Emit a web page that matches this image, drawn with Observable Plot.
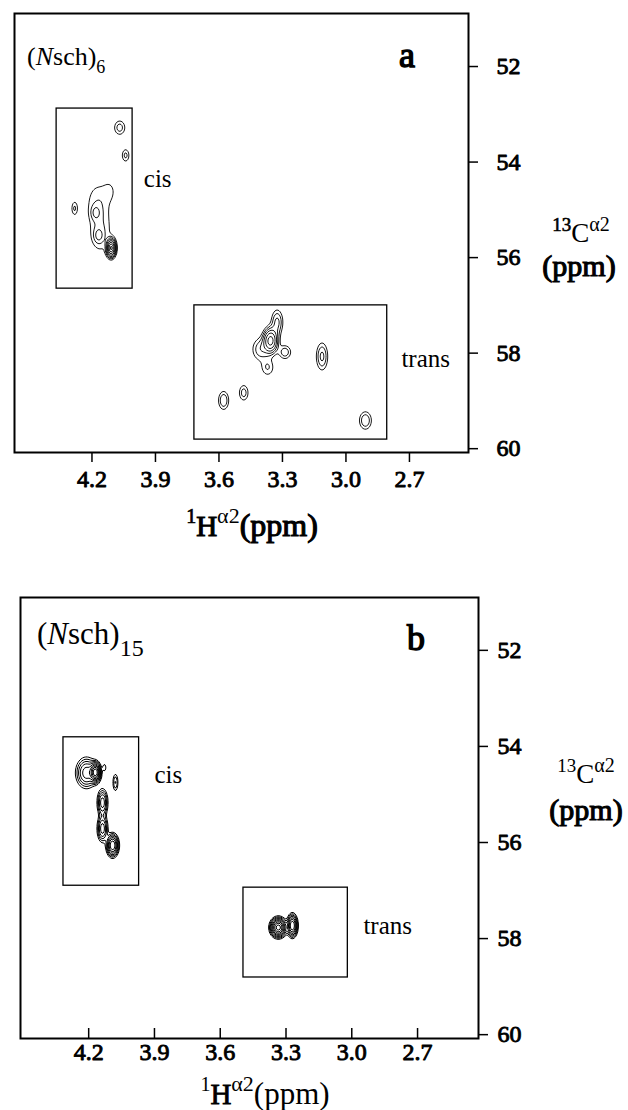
<!DOCTYPE html>
<html><head><meta charset="utf-8">
<script src="https://cdn.jsdelivr.net/npm/d3@7"></script>
<script src="https://cdn.jsdelivr.net/npm/@observablehq/plot@0.6"></script>
<style>
body{margin:0;background:#fff;}
svg{display:block;}
</style>
</head><body>
<div id="a"></div><div id="b"></div>
<script>
// ---- tick values ----
const hTicks = [4.2, 3.9, 3.6, 3.3, 3.0, 2.7];
const cTicks = [52, 54, 56, 58, 60];

// ---- panel a: (Nsch)6 peaks (1H ppm, 13C ppm, widths, amplitude) ----
const aPeakH  = [4.069, 4.041, 4.282, 4.170, 4.160, 4.115, 4.183, 4.169, 4.109, 3.356, 3.325, 3.405, 3.288, 3.370, 3.113, 3.578, 3.483, 2.908];
const aPeakC  = [53.28, 53.86, 54.97, 54.85, 55.50, 54.60, 55.06, 55.54, 55.80, 57.74, 57.35, 57.92, 57.98, 58.30, 58.07, 58.99, 58.83, 59.41];
const aWidthH = [0.019, 0.013, 0.011, 0.042, 0.037, 0.022, 0.015, 0.015, 0.012, 0.020, 0.018, 0.026, 0.020, 0.022, 0.018, 0.017, 0.016, 0.020];
const aWidthC = [0.110, 0.100, 0.110, 0.320, 0.300, 0.160, 0.100, 0.100, 0.105, 0.150, 0.170, 0.160, 0.100, 0.130, 0.190, 0.134, 0.120, 0.130];
const aAmp    = [0.33,  0.30,  0.28,  0.24,  0.25,  0.13,  0.25,  0.25,  2.40,  1.50,  0.45,  0.36,  0.36,  0.27,  0.45,  0.40,  0.33,  0.40];

// ---- panel b: (Nsch)15 peaks ----
const bPeakH  = [4.210, 4.169, 4.128, 4.078, 4.137, 4.137, 4.091, 3.335, 3.271];
const bPeakC  = [54.55, 54.54, 54.44, 54.75, 55.17, 55.71, 56.06, 57.77, 57.73];
const bWidthH = [0.026, 0.012, 0.006, 0.008, 0.013, 0.013, 0.014, 0.018, 0.012];
const bWidthC = [0.170, 0.100, 0.060, 0.120, 0.150, 0.150, 0.120, 0.100, 0.120];
const bAmp    = [1.00,  3.00,  0.25,  0.40,  1.00,  1.00,  2.00,  3.00,  2.00];

// ---- boxes (cis, trans) ----
const boxLabel = ["cis", "trans"];
const aBoxH1 = [4.367, 3.716], aBoxH2 = [4.008, 2.805];
const aBoxC1 = [52.88, 57.00], aBoxC2 = [56.65, 59.81];
const bBoxH1 = [4.315, 3.494], bBoxH2 = [3.970, 3.018];
const bBoxC1 = [53.81, 56.94], bBoxC2 = [56.90, 58.81];
// label anchors (ppm)
const aLabH = [3.955, 2.738], aLabC = [54.35, 58.12];
const bLabH = [3.900, 2.947], bLabC = [54.60, 57.73];

const levelsA = [0.15, 0.26, 0.4, 0.6, 0.9, 1.3, 1.8, 2.3];
const levelsB = [0.15, 0.25, 0.38, 0.55, 0.8, 1.1, 1.5, 2.0, 2.6];

const FONT = "Liberation Serif";

function density(H, C, WH, WC, A) {
  return (x, y) => {
    let s = 0;
    for (let i = 0; i < H.length; i++) {
      const dx = (x - H[i]) / WH[i], dy = (y - C[i]) / WC[i];
      s += A[i] * Math.exp(-0.5 * (dx * dx + dy * dy));
    }
    return s;
  };
}

function panel(cfg) {
  const boxes = boxLabel.map((l, i) => ({l, h1: cfg.bh1[i], h2: cfg.bh2[i], c1: cfg.bc1[i], c2: cfg.bc2[i], lh: cfg.lh[i], lc: cfg.lc[i]}));
  const frameH = cfg.height - cfg.mt - cfg.mb;
  const frameW = 628 - cfg.ml - cfg.mr;
  const tickFont = {fontSize: 24, fontFamily: FONT, fill: "black", stroke: "black", strokeWidth: 0.9};
  const xTickRule = cfg.inwardX
    ? Plot.ruleX(hTicks, {x: d => d, insetTop: frameH - 10, stroke: "black", strokeWidth: 1.5})
    : Plot.ruleX(hTicks, {x: d => d, insetTop: frameH, insetBottom: -10, stroke: "black", strokeWidth: 1.5});
  const svg = Plot.plot({
    width: 628, height: cfg.height,
    marginLeft: cfg.ml, marginRight: cfg.mr, marginTop: cfg.mt, marginBottom: cfg.mb,
    style: {fontFamily: FONT, background: "white", color: "black"},
    x: {domain: cfg.xd, axis: null},
    y: {domain: cfg.yd, axis: null},
    marks: [
      Plot.contour({value: density(cfg.H, cfg.C, cfg.WH, cfg.WC, cfg.A), thresholds: cfg.levels,
        x1: cfg.xd[0], x2: cfg.xd[1], y1: cfg.yd[0], y2: cfg.yd[1],
        stroke: "black", fill: "none", strokeWidth: cfg.sw, pixelSize: 1}),
      Plot.rect(boxes, {x1: "h1", x2: "h2", y1: "c1", y2: "c2", fill: "none", stroke: "black", strokeWidth: 1.3}),
      Plot.text(boxes, {x: "lh", y: "lc", text: "l", textAnchor: "start", fontSize: 25, fontFamily: FONT, fill: "black"}),
      Plot.frame({stroke: "black", strokeWidth: 2}),
      xTickRule,
      Plot.text(hTicks, {x: d => d, text: d => d.toFixed(1), frameAnchor: "bottom", lineAnchor: "top", dy: cfg.xDy, ...tickFont}),
      Plot.ruleY(cTicks, {y: d => d, insetLeft: frameW, insetRight: -10, stroke: "black", strokeWidth: 1.5}),
      Plot.text(cTicks, {y: d => d, text: d => String(d), frameAnchor: "right", textAnchor: "start", lineAnchor: "middle", dx: cfg.yDx, ...tickFont})
    ]
  });
  return d3.select(svg);
}

function rich(s, x, y, anchor, parts) {
  const t = s.append("text").attr("x", x).attr("y", y).attr("text-anchor", anchor)
    .attr("font-family", FONT).attr("fill", "black");
  let cur = 0;
  for (const p of parts) {
    const sp = t.append("tspan").text(p.t).attr("font-size", p.size);
    if (p.it) sp.attr("font-style", "italic");
    if (p.b) sp.attr("stroke", "black").attr("stroke-width", p.b);
    const sh = p.shift || 0;
    sp.attr("dy", sh - cur); cur = sh;
  }
  return t;
}

// ---- panel a ----
const sa = panel({height: 560, ml: 14, mr: 160, mt: 13, mb: 108,
  xd: [4.566, 2.421], yd: [60.08, 50.89],
  H: aPeakH, C: aPeakC, WH: aWidthH, WC: aWidthC, A: aAmp, levels: levelsA, sw: 0.9,
  bh1: aBoxH1, bh2: aBoxH2, bc1: aBoxC1, bc2: aBoxC2, lh: aLabH, lc: aLabC, yDx: 28, xDy: 17, inwardX: false});
rich(sa, 27, 65, "start", [{t: "(", size: 26}, {t: "N", size: 26, it: true}, {t: "sch)", size: 26}, {t: "6", size: 18, shift: 8}]);
rich(sa, 399, 67, "start", [{t: "a", size: 36, b: 1.4}]);
rich(sa, 252, 536, "middle", [{t: "1", size: 20, b: 0.7, shift: -13}, {t: "H", size: 29, b: 1.1}, {t: "α2", size: 22, shift: -13}, {t: "(ppm)", size: 32, b: 1.1}]);
rich(sa, 581, 242, "middle", [{t: "13", size: 19, b: 0.6, shift: -11}, {t: "C", size: 27}, {t: "α2", size: 20, shift: -11}]);
rich(sa, 579, 276, "middle", [{t: "(ppm)", size: 30, b: 1.1}]);
document.getElementById("a").appendChild(sa.node());

// ---- panel b ----
const sb = panel({height: 550, ml: 20, mr: 150, mt: 37, mb: 72,
  xd: [4.511, 2.422], yd: [60.08, 50.9],
  H: bPeakH, C: bPeakC, WH: bWidthH, WC: bWidthC, A: bAmp, levels: levelsB, sw: 1,
  bh1: bBoxH1, bh2: bBoxH2, bc1: bBoxC1, bc2: bBoxC2, lh: bLabH, lc: bLabC, yDx: 19, xDy: 4, inwardX: true});
rich(sb, 37, 84, "start", [{t: "(", size: 31}, {t: "N", size: 31, it: true}, {t: "sch)", size: 31}, {t: "15", size: 24, shift: 12}]);
rich(sb, 407, 90, "start", [{t: "b", size: 36, b: 1.4}]);
rich(sb, 265, 544, "middle", [{t: "1", size: 20, shift: -13}, {t: "H", size: 29, b: 0.8}, {t: "α2", size: 22, shift: -13}, {t: "(ppm)", size: 31}]);
rich(sb, 586, 223, "middle", [{t: "13", size: 19, shift: -11}, {t: "C", size: 27}, {t: "α2", size: 20, shift: -11}]);
rich(sb, 586, 260, "middle", [{t: "(ppm)", size: 30, b: 1.1}]);
document.getElementById("b").appendChild(sb.node());
</script>
</body></html>
